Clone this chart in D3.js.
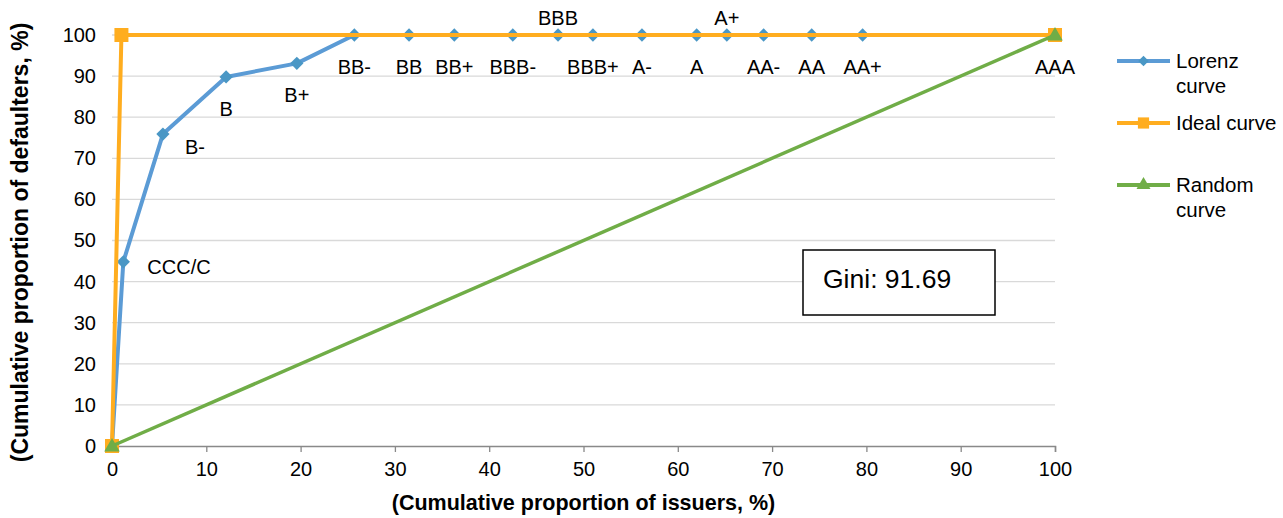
<!DOCTYPE html>
<html>
<head>
<meta charset="utf-8">
<script src="https://cdn.jsdelivr.net/npm/d3@7"></script>
<style>
  body { margin: 0; background: #fff; }
  svg { font-family: "Liberation Sans", Arial, sans-serif; }
</style>
</head>
<body>
<svg class="svgChart"></svg>
<script>
// chart data
var ratingLabels = ["", "CCC/C", "B-", "B", "B+", "BB-", "BB", "BB+", "BBB-", "BBB", "BBB+",
                    "A-", "A", "A+", "AA-", "AA", "AA+", "AAA"];
var lorenzX = [0, 1.2, 5.4, 12.1, 19.6, 25.7, 31.5, 36.3, 42.5, 47.3, 51.0,
               56.2, 62.0, 65.2, 69.1, 74.2, 79.6, 100];
var lorenzY = [0, 44.8, 75.9, 89.8, 93.1, 100, 100, 100, 100, 100, 100,
               100, 100, 100, 100, 100, 100, 100];
var idealX = [0, 1.0, 100];
var idealY = [0, 100, 100];
var randomX = [0, 100];
var randomY = [0, 100];
var xTickValues = [0, 10, 20, 30, 40, 50, 60, 70, 80, 90, 100];
var yTickValues = [0, 10, 20, 30, 40, 50, 60, 70, 80, 90, 100];
var seriesNames = ["Lorenz\ncurve", "Ideal curve", "Random\ncurve"];
var giniValue = 91.69;

// layout
var W = 1283, H = 518;
var margin = {top: 35, left: 112, right: 228, bottom: 72};
var width = W - margin.left - margin.right;
var height = H - margin.top - margin.bottom;

var colors = {lorenz: '#5B9BD5', lorenzMark: '#4A97C5', ideal: '#FFAD1F', random: '#70AD47'};

var svg = d3.select('.svgChart')
    .attr('width', W)
    .attr('height', H);

var xScale = d3.scaleLinear().domain([0, 100]).range([0, width]);
var yScale = d3.scaleLinear().domain([0, 100]).range([height, 0]);

var g = svg.append('g')
    .attr('transform', 'translate(' + margin.left + ',' + margin.top + ')');

// gridlines
g.append('g')
  .selectAll('line')
  .data(yTickValues.filter(d => d > 0))
  .enter()
  .append('line')
    .attr('x1', 0)
    .attr('x2', width)
    .attr('y1', d => yScale(d))
    .attr('y2', d => yScale(d))
    .attr('stroke', '#d9d9d9')
    .attr('stroke-width', 1.3);

// x axis
var xAxis = d3.axisBottom(xScale)
    .tickValues(xTickValues)
    .tickSize(6)
    .tickPadding(10);
var xg = g.append('g')
    .attr('class', 'xAxis')
    .attr('transform', 'translate(0,' + height + ')')
    .call(xAxis);
xg.select('.domain').attr('stroke', '#898989').attr('stroke-width', 1.5);
xg.selectAll('.tick line').attr('stroke', '#898989').attr('stroke-width', 1.3);
xg.selectAll('text')
    .attr('font-size', 20)
    .attr('font-family', '"Liberation Sans", Arial, sans-serif')
    .attr('fill', '#000');

// y axis (labels only)
var yAxis = d3.axisLeft(yScale)
    .tickValues(yTickValues)
    .tickSize(0)
    .tickPadding(16);
var yg = g.append('g')
    .attr('class', 'yAxis')
    .call(yAxis);
yg.select('.domain').remove();
yg.selectAll('text')
    .attr('font-size', 20)
    .attr('font-family', '"Liberation Sans", Arial, sans-serif')
    .attr('fill', '#000');

// axis titles
svg.append('text')
    .attr('x', margin.left + width / 2)
    .attr('y', 510)
    .attr('text-anchor', 'middle')
    .attr('font-weight', 'bold')
    .attr('font-size', 21.5)
    .text('(Cumulative proportion of issuers, %)');

svg.append('text')
    .attr('transform', 'translate(28,' + (margin.top + height / 2 + 2) + ') rotate(-90)')
    .attr('text-anchor', 'middle')
    .attr('font-weight', 'bold')
    .attr('font-size', 23)
    .text('(Cumulative proportion of defaulters, %)');

// series
function toPoints(xs, ys) {
  return xs.map((x, i) => ({x: x, y: ys[i]}));
}
var lorenzPts = toPoints(lorenzX, lorenzY).map((d, i) => Object.assign(d, {label: ratingLabels[i]}));
var idealPts = toPoints(idealX, idealY);
var randomPts = toPoints(randomX, randomY);

var line = d3.line()
    .x(d => xScale(d.x))
    .y(d => yScale(d.y));

var diamond = d3.symbol().type(d3.symbolSquare).size(88);
var square = d3.symbol().type(d3.symbolSquare).size(196);
var triangle = d3.symbol().type(d3.symbolTriangle).size(105);

// Lorenz
g.append('path')
    .datum(lorenzPts)
    .attr('d', line)
    .attr('fill', 'none')
    .attr('stroke', colors.lorenz)
    .attr('stroke-width', 4)
    .attr('stroke-linejoin', 'round');
g.append('g')
  .selectAll('path')
  .data(lorenzPts)
  .enter()
  .append('path')
    .attr('d', diamond)
    .attr('transform', d => 'translate(' + xScale(d.x) + ',' + yScale(d.y) + ') rotate(45)')
    .attr('fill', colors.lorenzMark);

// Ideal
g.append('path')
    .datum(idealPts)
    .attr('d', line)
    .attr('fill', 'none')
    .attr('stroke', colors.ideal)
    .attr('stroke-width', 4);
g.append('g')
  .selectAll('path')
  .data(idealPts)
  .enter()
  .append('path')
    .attr('d', square)
    .attr('transform', d => 'translate(' + xScale(d.x) + ',' + yScale(d.y) + ')')
    .attr('fill', colors.ideal);

// Random
g.append('path')
    .datum(randomPts)
    .attr('d', line)
    .attr('fill', 'none')
    .attr('stroke', colors.random)
    .attr('stroke-width', 3.5);
g.append('g')
  .selectAll('path')
  .data(randomPts)
  .enter()
  .append('path')
    .attr('d', triangle)
    .attr('transform', d => 'translate(' + xScale(d.x) + ',' + (yScale(d.y) + 1) + ')')
    .attr('fill', colors.random);

// data labels on the Lorenz curve
var labelOffset = {
  'CCC/C': {dx: 24, dy: 12, anchor: 'start'},
  'B-': {dx: 22, dy: 20, anchor: 'start'},
  'BBB': {dx: 0, dy: -10, anchor: 'middle'},
  'A+': {dx: 0, dy: -10, anchor: 'middle'}
};
g.append('g')
  .selectAll('text')
  .data(lorenzPts.filter(d => d.label))
  .enter()
  .append('text')
    .attr('x', d => xScale(d.x) + (labelOffset[d.label] ? labelOffset[d.label].dx : 0))
    .attr('y', d => yScale(d.y) + (labelOffset[d.label] ? labelOffset[d.label].dy : 39))
    .attr('text-anchor', d => labelOffset[d.label] ? labelOffset[d.label].anchor : 'middle')
    .attr('font-size', 20)
    .attr('fill', '#000')
    .text(d => d.label);

// Gini box
var gini = svg.append('g').attr('transform', 'translate(803,250)');
gini.append('rect')
    .attr('width', 192)
    .attr('height', 65)
    .attr('fill', '#fff')
    .attr('stroke', '#000')
    .attr('stroke-width', 1.5);
gini.append('text')
    .attr('x', 20)
    .attr('y', 38)
    .attr('font-size', 26.5)
    .attr('fill', '#000')
    .text('Gini: ' + giniValue.toFixed(2));

// legend
var legendY = [61, 123, 185];
var legendMarks = [
  {sym: diamond, color: colors.lorenzMark, rot: 45, lineColor: colors.lorenz, scale: 0.8},
  {sym: square, color: colors.ideal, rot: 0, lineColor: colors.ideal, scale: 0.8},
  {sym: triangle, color: colors.random, rot: 0, lineColor: colors.random, scale: 0.9}
];
var legend = svg.append('g')
  .selectAll('g')
  .data(seriesNames)
  .enter()
  .append('g')
    .attr('transform', (d, i) => 'translate(1117,' + legendY[i] + ')');

legend.append('line')
    .attr('x1', 0)
    .attr('x2', 53)
    .attr('stroke', (d, i) => legendMarks[i].lineColor)
    .attr('stroke-width', 4);
legend.append('path')
    .attr('d', (d, i) => legendMarks[i].sym())
    .attr('transform', (d, i) => 'translate(26.5,0) rotate(' + legendMarks[i].rot + ') scale(' + legendMarks[i].scale + ')')
    .attr('fill', (d, i) => legendMarks[i].color);
legend.append('text')
    .attr('x', 59)
    .attr('y', 7)
    .attr('font-size', 20.5)
    .attr('fill', '#000')
    .selectAll('tspan')
    .data(d => d.split('\n'))
    .enter()
    .append('tspan')
      .attr('x', 59)
      .attr('dy', (d, i) => i === 0 ? 0 : 24.5)
      .text(d => d);
</script>
</body>
</html>
